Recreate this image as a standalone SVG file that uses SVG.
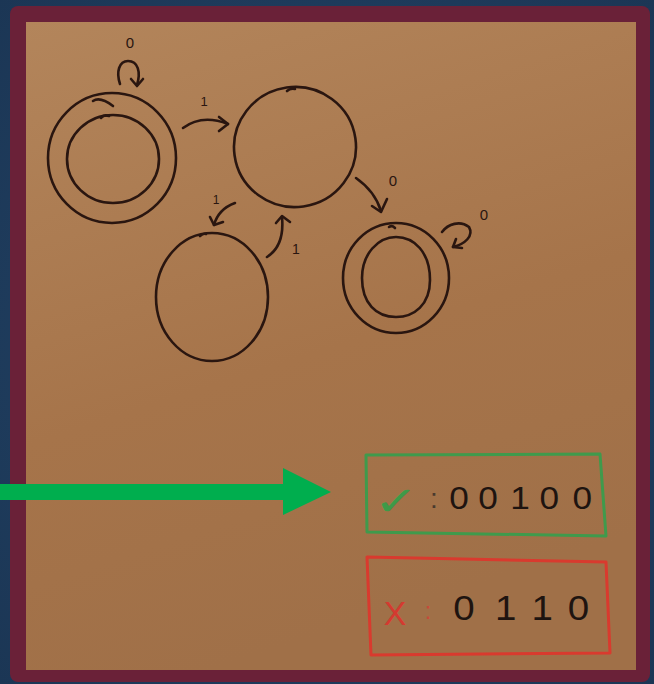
<svg xmlns="http://www.w3.org/2000/svg" width="654" height="684" viewBox="0 0 654 684">
<defs>
<linearGradient id="board" x1="0" y1="0" x2="0.3" y2="1">
<stop offset="0" stop-color="#b3855b"/>
<stop offset="0.6" stop-color="#a6744a"/>
<stop offset="1" stop-color="#a07048"/>
</linearGradient>
<radialGradient id="bg" cx="0.5" cy="0.5" r="0.8">
<stop offset="0" stop-color="#24466a"/>
<stop offset="1" stop-color="#1a3452"/>
</radialGradient>
</defs>
<style>
.ink{fill:none;stroke:#2a1610;stroke-width:2.6;stroke-linecap:round;stroke-linejoin:round}
.lbl{font-family:"Liberation Sans",Arial,sans-serif;fill:#2a1610;text-anchor:middle}
.dig{font-family:"Liberation Sans",Arial,sans-serif;fill:#1e1410;text-anchor:middle}
</style>
<rect width="654" height="684" fill="url(#bg)"/>
<rect x="10" y="6" width="640" height="676" rx="8" fill="#6a2138"/>
<rect x="26" y="22" width="610" height="648" fill="url(#board)"/>

<g id="q0">
<ellipse class="ink" cx="112" cy="158" rx="64" ry="65"/>
<ellipse class="ink" cx="113" cy="159" rx="46" ry="44"/>
<path class="ink" d="M93,101 Q100,96 113,106"/>
<path class="ink" d="M101,118 Q104,114 109,116"/>
</g>
<g id="q1">
<ellipse class="ink" cx="295" cy="147" rx="61" ry="60" transform="rotate(-8 295 147)"/>
<path class="ink" d="M287,91 Q290,88 295,89"/>
</g>
<g id="q2">
<ellipse class="ink" cx="212" cy="297" rx="56" ry="64"/>
<path class="ink" d="M200,236 Q203,233 206,234"/>
</g>
<g id="q3">
<ellipse class="ink" cx="396" cy="278" rx="53" ry="55"/>
<path class="ink" d="M396,237 C414,237 430,252 430,280 C430,305 414,317 396,317 C376,317 362,303 362,278 C362,254 378,237 396,237 Z"/>
<path class="ink" d="M389,227 Q392,225 395,228"/>
</g>

<g id="connectors">
<path class="ink" d="M120,84 C116,72 119,61 128,61 C138,61 141,72 137,85"/>
<path class="ink" d="M131,79 L137,86 L143,79"/>
<path class="ink" d="M183,128 C195,119 210,117 228,124"/>
<path class="ink" d="M219,117 L228,124 L219,131"/>
<path class="ink" d="M235,203 C224,207 217,214 214,225"/>
<path class="ink" d="M210,217 L214,225 L223,222"/>
<path class="ink" d="M267,257 C278,250 284,238 282,217"/>
<path class="ink" d="M276,223 L282,216 L290,222"/>
<path class="ink" d="M356,178 C366,185 376,195 381,211"/>
<path class="ink" d="M372,206 L381,212 L387,199"/>
<path class="ink" d="M442,232 C448,224 460,220 469,227 C474,236 465,244 453,247"/>
<path class="ink" d="M456,239 L453,247 L462,248"/>
<text class="lbl" x="130" y="48" font-size="15">0</text>
<text class="lbl" x="204" y="106" font-size="13">1</text>
<text class="lbl" x="216" y="204" font-size="12">1</text>
<text class="lbl" x="296" y="254" font-size="14">1</text>
<text class="lbl" x="393" y="186" font-size="15">0</text>
<text class="lbl" x="484" y="220" font-size="15">0</text>
</g>

<g id="pointer">
<rect x="0" y="484" width="284" height="16" fill="#00ae4e"/>
<polygon points="283,468 331,492 283,515" fill="#00ae4e"/>
</g>

<g id="accept">
<polygon points="366,455 600,454 606,536 367,532" fill="none" stroke="#3f9a4c" stroke-width="3" stroke-linejoin="round"/>
<text x="0" y="0" font-family="DejaVu Sans,sans-serif" font-size="40" fill="#3e9a48" text-anchor="middle" transform="translate(396 515) scale(1.35 1)">✓</text>
<text x="434" y="508" font-family="Liberation Sans,Arial,sans-serif" font-size="28" fill="#4a3a2e" text-anchor="middle">:</text>
<text class="dig" x="0 26.5 55.5 82 112" y="0" font-size="32" transform="translate(459 509) scale(1.1 1)">00100</text>
</g>

<g id="reject">
<polygon points="367,557 606,562 610,653 371,655" fill="none" stroke="#d93a2e" stroke-width="3" stroke-linejoin="round"/>
<text x="395" y="625" font-family="Liberation Sans,Arial,sans-serif" font-size="34" fill="#d43a30" text-anchor="middle">X</text>
<text x="428" y="619" font-family="Liberation Sans,Arial,sans-serif" font-size="24" fill="#c84a3a" text-anchor="middle">:</text>
<text class="dig" x="0 38 71 104" y="0" font-size="35" transform="translate(464 620) scale(1.1 1)">0110</text>
</g>
</svg>
